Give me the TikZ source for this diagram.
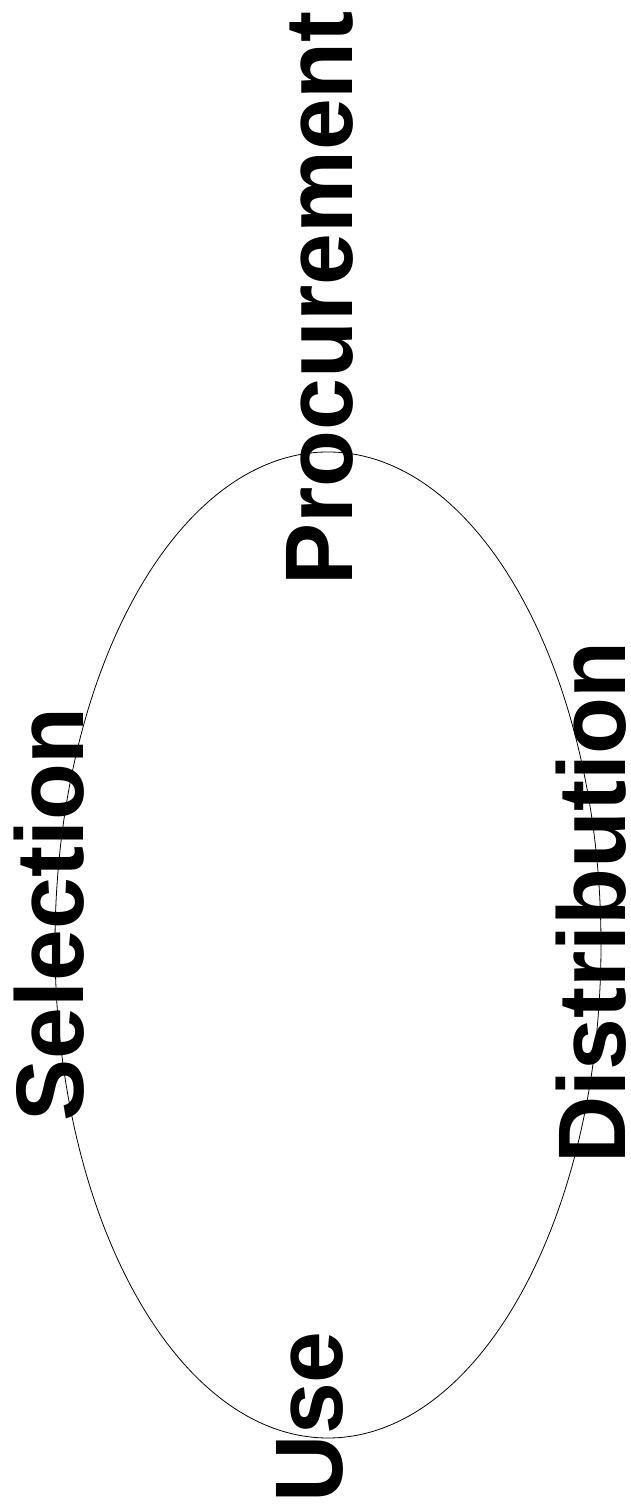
\documentclass[tikz,border=0pt]{standalone}
\usepackage{fontspec}
\setmainfont{Liberation Sans}
\usetikzlibrary{shapes.geometric}
\newcommand{\stagetext}[1]{\scalebox{0.97}[1]{#1}}
\tikzset{
  stagelabel/.style={rotate=90, anchor=base east, inner sep=0pt, text=black,
    text depth=0pt, font=\fontsize{96}{100}\selectfont\bfseries},
  cyclering/.style={draw=black, line width=0.8pt, ellipse, inner sep=0pt,
    minimum width=546pt, minimum height=986pt}
}
\begin{document}
\begin{tikzpicture}[x=1pt,y=1pt]
  \useasboundingbox (0,0) rectangle (630,1507);
  \node[cyclering] (ring) at (328,562) {};
  \node[stagelabel] (procurement) at (352,1496) {\stagetext{Procurement}};
  \node[stagelabel] (selection) at (83,800) {\stagetext{Selection}};
  \node[stagelabel] (distribution) at (625,866) {\stagetext{Distribution}};
  \node[stagelabel] (use) at (342,176) {\stagetext{Use}};
\end{tikzpicture}
\end{document}
